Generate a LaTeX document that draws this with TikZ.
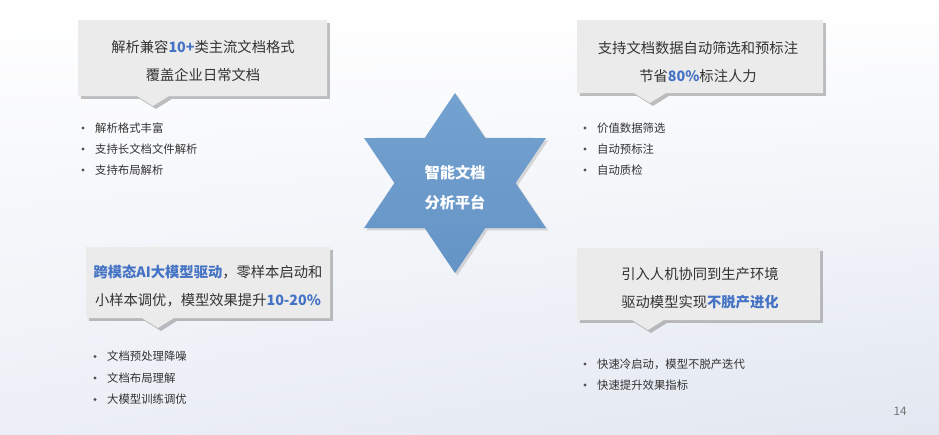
\documentclass[tikz,border=0pt]{standalone}
\usepackage{fontspec}
\setmainfont{Noto Sans CJK SC}
\usetikzlibrary{shadows,shadings,calc}
\definecolor{lanse}{HTML}{4472C4}
\definecolor{xingshang}{HTML}{74A2D0}
\definecolor{xingxia}{HTML}{6494C6}
\definecolor{huise}{HTML}{EBEBEB}
\definecolor{wenzi}{HTML}{333333}
\definecolor{beijingzuo}{HTML}{ECEFF6}
\definecolor{beijingyou}{HTML}{E2E7F1}
\newcommand{\hl}[1]{\textcolor{lanse}{\bfseries #1}}
% callout: left, top, right, bottom, tip x, tip y
\newcommand{\qipao}[6]{%
  \fill[kuang] (#1,#2) -- (#3,#2) -- (#3,#4) -- (#5+16,#4) -- (#5,#6)
    -- (#5-16,#4) -- (#1,#4) -- cycle;}
\tikzset{
  kuang/.style={fill=huise, drop shadow={shadow xshift=2.5pt, shadow yshift=-2.5pt, fill=black!50, opacity=0.5}},
  kuangwen/.style={text=wenzi, align=center, font=\fontsize{12.2}{24}\selectfont},
  xingwen/.style={text=white, align=center, font=\bfseries\fontsize{13}{25.5}\selectfont},
  tiaomu/.style={text=wenzi, anchor=west, inner sep=0pt, font=\fontsize{9.7}{11}\selectfont},
  dian/.style={circle, fill=wenzi!85, inner sep=0pt, minimum size=2.6pt},
}

\begin{document}
\begin{tikzpicture}[x=0.03cm, y=-0.03cm]
% background
\shade[upper left=white, upper right=white, lower left=beijingzuo, lower right=beijingyou]
  (0,0) rectangle (939,434);

% callout boxes
\qipao{78}{20}{327}{96}{153}{106}
\qipao{577}{20}{823}{93}{650}{103}
\qipao{86}{247}{330}{318}{158}{328}
\qipao{577}{248}{820}{320}{648}{330}

\node[kuangwen] (k1) at (203,61) {解析兼容\hl{10+}类主流文档格式\\覆盖企业日常文档};
\node[kuangwen] (k2) at (698,62) {支持文档数据自动筛选和预标注\\节省\hl{80\%}标注人力};
\node[kuangwen] (k3) at (208,286) {\hl{跨模态AI大模型驱动}，零样本启动和\\小样本调优，模型效果提升\hl{10-20\%}};
\node[kuangwen] (k4) at (700,288) {引入人机协同到生产环境\\驱动模型实现\hl{不脱产进化}};

% star
\begin{scope}[shift={(455,183)}]
\shade[top color=xingshang, bottom color=xingxia,
  drop shadow={shadow xshift=2pt, shadow yshift=-2pt, fill=black!40, opacity=0.35}]
  (90:105 and 90) \foreach \a in {90,150,...,390}{ -- (\a+30:60.6 and 52) -- (\a+60:105 and 90)} -- cycle;
\end{scope}
\node[xingwen] (pt) at (455,188) {智能文档\\分析平台};

% bullet lists
\foreach \t [count=\i] in {解析格式丰富,支持长文档文件解析,支持布局解析}{
  \node[dian] (ad\i) at (83,107+21*\i) {};
  \node[tiaomu] (aw\i) at (95,107+21*\i) {\t};
}
\foreach \t [count=\i] in {价值数据筛选,自动预标注,自动质检}{
  \node[dian] (bd\i) at (585,107+21*\i) {};
  \node[tiaomu] (bw\i) at (597,107+21*\i) {\t};
}
\foreach \t [count=\i] in {文档预处理降噪,文档布局理解,大模型训练调优}{
  \node[dian] (cd\i) at (95,335+21.5*\i) {};
  \node[tiaomu] (cw\i) at (107,335+21.5*\i) {\t};
}
\foreach \t [count=\i] in {快速冷启动，模型不脱产迭代,快速提升效果指标}{
  \node[dian] (dd\i) at (585,343+21*\i) {};
  \node[tiaomu] (dw\i) at (597,343+21*\i) {\t};
}

\node[text=black!55, font=\fontsize{10}{12}\selectfont] (yema) at (900,411) {14};
\end{tikzpicture}
\end{document}
